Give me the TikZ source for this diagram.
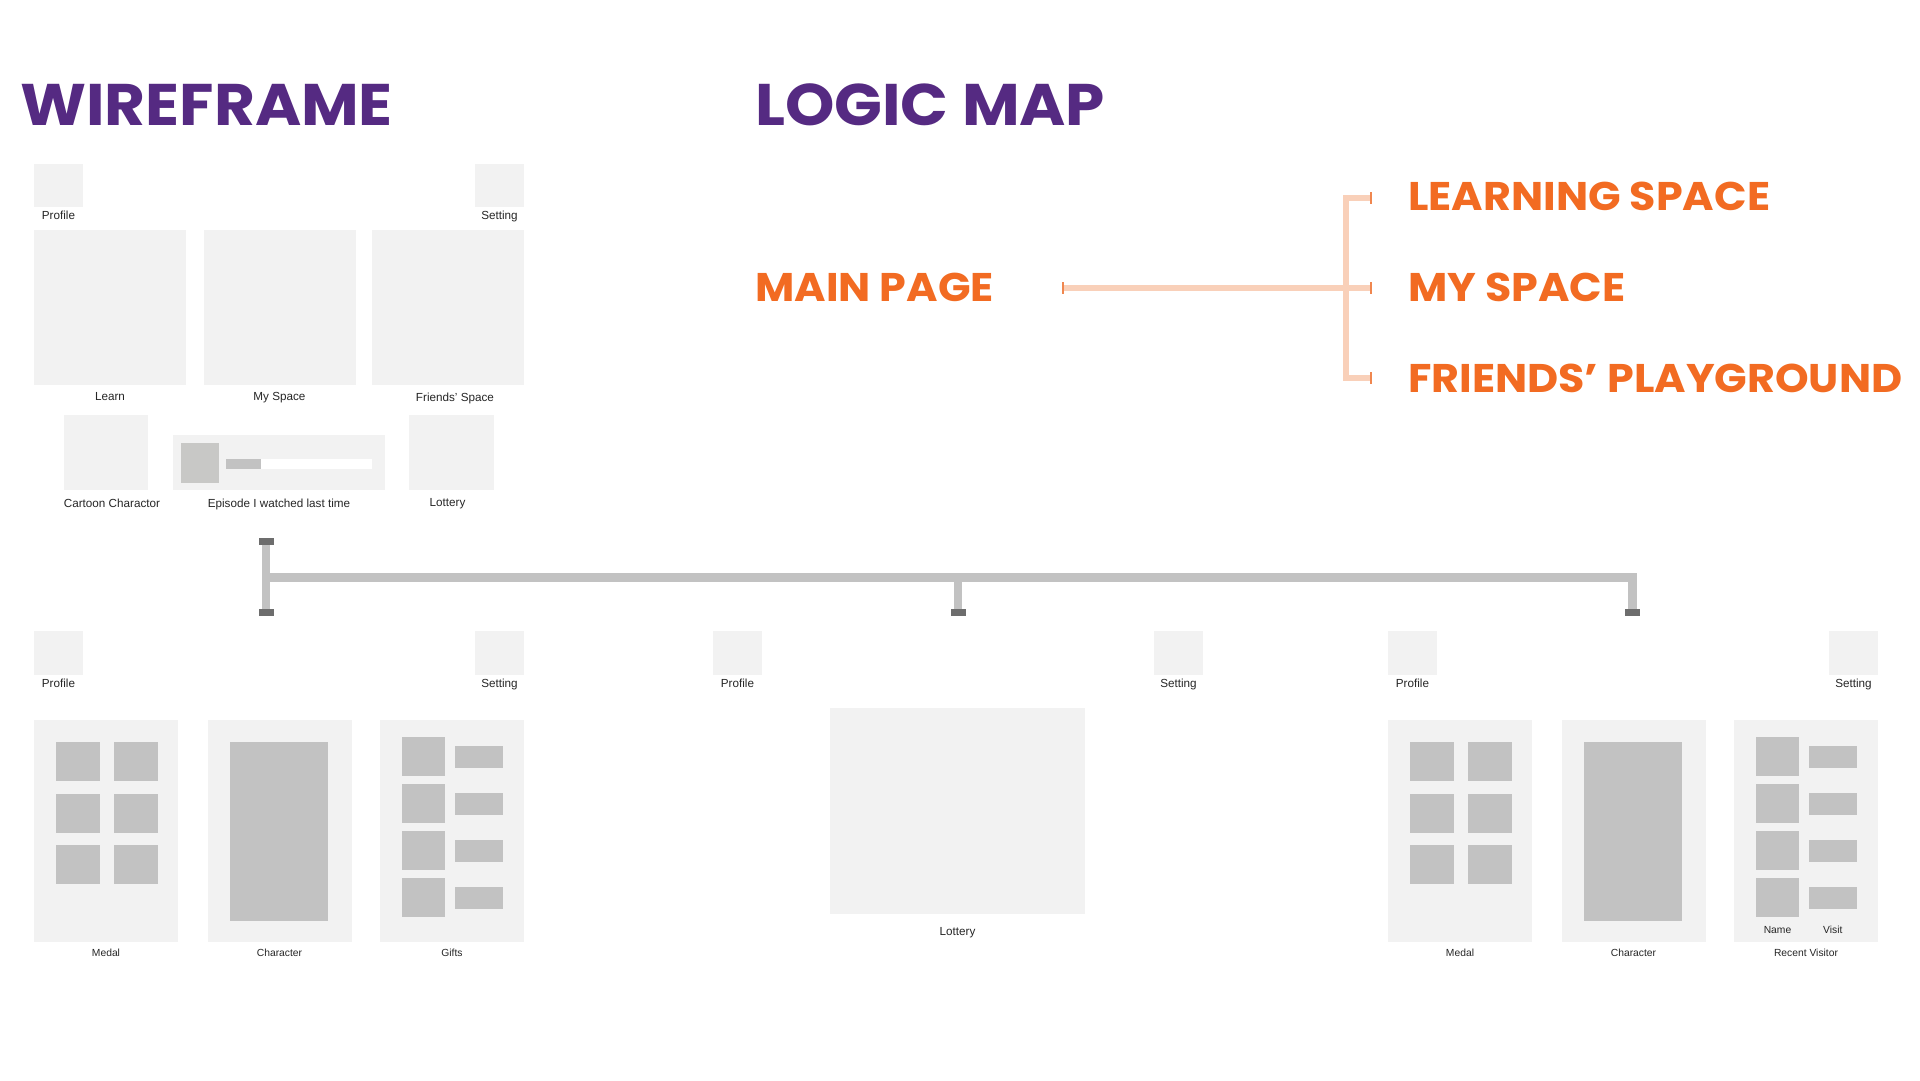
\documentclass[tikz,border=0pt]{standalone}
\usepackage{fontspec}
\setmainfont{Liberation Sans}
\newfontfamily\headfont{Poppins}[FakeStretch=1.07]
\usepackage{tikz}
\usetikzlibrary{positioning}
\definecolor{wfpurple}{HTML}{552A82}
\definecolor{maporange}{HTML}{F26B22}
\definecolor{mappeach}{HTML}{F9D0B9}
\definecolor{maptick}{HTML}{F0874F}
\definecolor{boxgray}{HTML}{F2F2F2}
\definecolor{fillgray}{HTML}{C2C2C2}
\definecolor{thumbgray}{HTML}{C8C8C6}
\definecolor{capgray}{HTML}{6D6D6D}
\tikzstyle{box}=[rectangle, fill=boxgray, inner sep=0pt, outer sep=0pt, anchor=north west]
\tikzstyle{inbox}=[box, fill=fillgray]
\tikzstyle{lbl}=[inner sep=0pt, text=black!85, font=\fontsize{11.7}{13}\selectfont]
\tikzstyle{slbl}=[lbl, font=\fontsize{10.3}{12}\selectfont]
\tikzstyle{headtext}=[inner sep=0pt, anchor=west, text=wfpurple, font=\headfont\bfseries\fontsize{58.7}{60}\selectfont]
\tikzstyle{maptext}=[inner sep=0pt, anchor=west, text=maporange, font=\headfont\bfseries\fontsize{40}{42}\selectfont]
\tikzstyle{maplink}=[mappeach, line width=6pt]
\tikzstyle{tickmark}=[rectangle, fill=maptick, inner sep=0pt, minimum width=2.5pt, minimum height=12pt]
\tikzstyle{postend}=[rectangle, fill=capgray, inner sep=0pt, minimum width=15pt, minimum height=7pt]
\tikzstyle{barline}=[fillgray, line width=8.5pt]

\begin{document}
\begin{tikzpicture}[x=1pt, y=-1pt]
		\useasboundingbox[fill=white] (0,0) rectangle (1920,1080);
		\node[headtext] (wftitle) at (20,104.5) {WIREFRAME};
		\node[headtext] (lmtitle) at (755,104.5) {LOGIC MAP};
		%---------------------
		\node[box, minimum width=49pt, minimum height=43pt] (prof) at (34,164) {};
		\node[box, minimum width=49pt, minimum height=43pt] (sett) at (475,164) {};
		\node[lbl, below=4pt of prof] (proflbl) {Profile};
		\node[lbl, below=4pt of sett] (settlbl) {Setting};
		\node[box, minimum width=152pt, minimum height=155pt] (learn) at (34,230) {};
		\node[box, minimum width=152pt, minimum height=155pt] (mysp) at (203.5,230) {};
		\node[box, minimum width=152pt, minimum height=155pt] (frsp) at (372,230) {};
		\node[lbl, below=7.5pt of learn] (learnlbl) {Learn};
		\node[lbl, below=7.5pt of mysp] (myslbl) {My Space};
		\node[lbl, below=7.5pt of frsp, xshift=7pt] (frslbl) {Friends’ Space};
		\node[box, minimum width=84pt, minimum height=75pt] (cart) at (64,415) {};
		\node[box, minimum width=212pt, minimum height=55pt] (epis) at (173,435) {};
		\node[inbox, fill=thumbgray, minimum width=38pt, minimum height=40pt] (epthumb) at (181,443) {};
		\node[box, fill=white, minimum width=146pt, minimum height=10pt] (epbar) at (226,459) {};
		\node[inbox, minimum width=35pt, minimum height=10pt] (epdone) at (226,459) {};
		\node[box, minimum width=85pt, minimum height=75pt] (lott) at (409,415) {};
		\node[lbl, below=8.5pt of cart, xshift=6pt] (cartlbl) {Cartoon Charactor};
		\node[lbl, below=8.5pt of epis] (epislbl) {Episode I watched last time};
		\node[lbl, below=8.5pt of lott, xshift=-4pt] (lottlbl) {Lottery};
		%---------------------
		\node[maptext] (mainpg) at (755,287) {MAIN PAGE};
		\node[maptext] (learnsp) at (1408,196) {LEARNING SPACE};
		\node[maptext] (myspace) at (1408,287) {MY SPACE};
		\node[maptext] (friendspg) at (1408,378) {FRIENDS’ PLAYGROUND};
		\node[tickmark] (tkmain) at (1063,288) {};
		\node[tickmark] (tklearn) at (1371,197.5) {};
		\node[tickmark] (tkmy) at (1371,288) {};
		\node[tickmark] (tkfr) at (1371,378) {};
		\coordinate (fork) at (1345.5,288);
		\draw[maplink] (tkmain) -- (fork);
		\draw[maplink] (tklearn) -| (fork) |- (tkfr);
		\draw[maplink] (fork) -- (tkmy);
		%---------------------
		\node[postend] (wfcap) at (266,541.5) {};
		\node[postend] (lcap) at (266,612.5) {};
		\node[postend] (mcap) at (958,612.5) {};
		\node[postend] (rcap) at (1632.5,612.5) {};
		\coordinate (bus) at (266,577.5);
		\draw[barline] (wfcap) -- (lcap);
		\draw[barline] (bus) -| (rcap);
		\draw[barline] (mcap) -- (mcap |- bus);
		%---------------------
		\foreach \gx/\g in {34/a,713/b,1388/c}{
			\node[box, minimum width=49pt, minimum height=44pt] (prof-\g) at (\gx,631) {};
			\node[box, minimum width=49pt, minimum height=44pt] (sett-\g) at (\gx+441,631) {};
			\node[lbl, below=4pt of prof-\g] (proflbl-\g) {Profile};
			\node[lbl, below=4pt of sett-\g] (settlbl-\g) {Setting};
		}
		\foreach \gx/\g/\lname in {34/a/Gifts,1388/c/Recent Visitor}{
			\node[box, minimum width=144pt, minimum height=222pt] (medal-\g) at (\gx,720) {};
			\node[box, minimum width=144pt, minimum height=222pt] (chara-\g) at (\gx+173.5,720) {};
			\node[box, minimum width=144pt, minimum height=222pt] (list-\g) at (\gx+346,720) {};
			\foreach \c in {0,1}
				\foreach \r in {0,1,2}
					\node[inbox, minimum width=43.5pt, minimum height=39pt] (msq-\g\c\r) at (\gx+22+58*\c,742+51.5*\r) {};
			\node[inbox, minimum width=97.5pt, minimum height=179pt] (cfig-\g) at (\gx+196,742) {};
			\foreach \r in {0,...,3}{
				\node[inbox, minimum width=43pt, minimum height=39pt] (lsq-\g\r) at (\gx+368,737+47*\r) {};
				\node[inbox, minimum width=47.5pt, minimum height=22pt] (lrc-\g\r) at (\gx+421,746+47*\r) {};
			}
			\node[slbl, below=7pt of medal-\g] (medallbl-\g) {Medal};
			\node[slbl, below=7pt of chara-\g] (charalbl-\g) {Character};
			\node[slbl, below=7pt of list-\g] (listlbl-\g) {\lname};
		}
		\node[slbl, below=9pt of lsq-c3] (namelbl) {Name};
		\node[slbl, anchor=north] (visitlbl) at (lrc-c3 |- namelbl.north) {Visit};
		\node[box, minimum width=255pt, minimum height=206pt] (lottbig) at (830,708) {};
		\node[lbl, below=13pt of lottbig] (lottbiglbl) {Lottery};
	\end{tikzpicture}
\end{document}
